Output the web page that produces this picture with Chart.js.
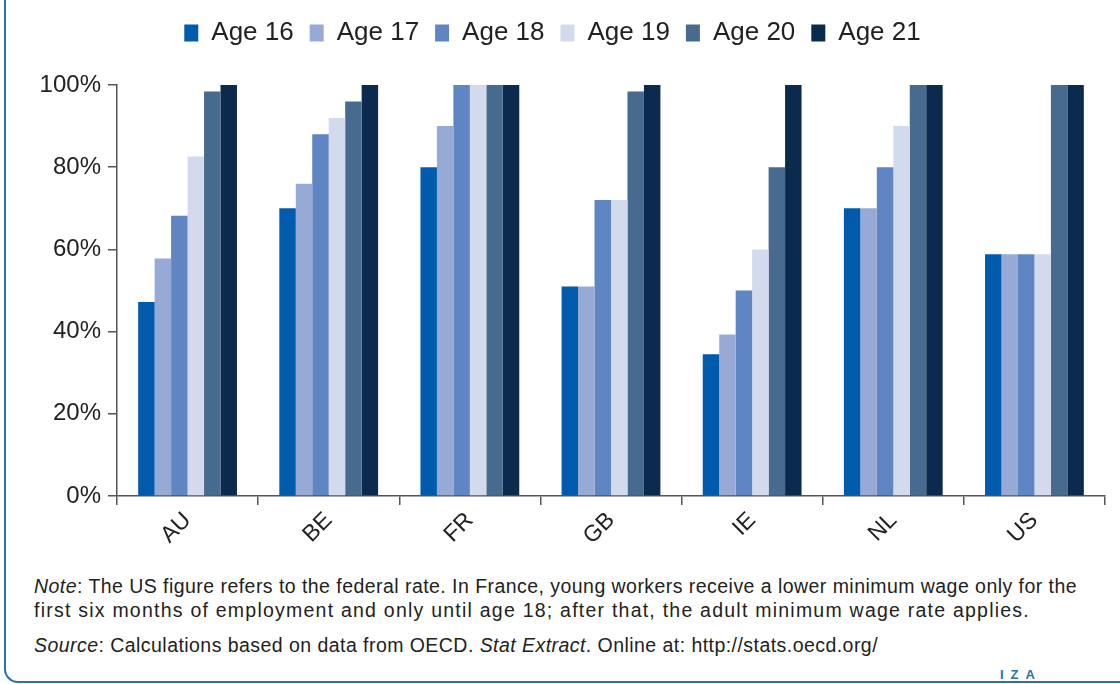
<!DOCTYPE html>
<html>
<head>
<meta charset="utf-8">
<script src="https://cdn.jsdelivr.net/npm/chart.js@4.4.1/dist/chart.umd.min.js"></script>
<style>
  html, body { margin: 0; padding: 0; background: #fff; }
  body { width: 1120px; height: 684px; position: relative; overflow: hidden; font-family: "Liberation Sans", Arial, sans-serif; }
  #frame { position: absolute; left: 4px; top: -10px; width: 1200px; height: 691px; border-left: 2px solid #2f6db3; border-bottom: 2px solid #2f6db3; border-bottom-left-radius: 14px; }
  #wrap { position: absolute; left: 0; top: 0; width: 1120px; height: 560px; }
  .note { position: absolute; left: 34px; font-size: 19.5px; color: #222; white-space: nowrap; line-height: 24px; }
  #iza { position: absolute; left: 1000px; top: 667px; font-size: 13px; color: #2f6db3; letter-spacing: 7px; font-weight: bold; }
</style>
</head>
<body>
<div id="frame"></div>
<div id="wrap"><canvas id="chart" width="1120" height="552"></canvas></div>
<div class="note" style="top:574px" data-w="1043"><i>Note</i>: The US figure refers to the federal rate. In France, young workers receive a lower minimum wage only for the</div>
<div class="note" style="top:598px" data-w="996">first six months of employment and only until age 18; after that, the adult minimum wage rate applies.</div>
<div class="note" style="top:633px" data-w="844"><i>Source</i>: Calculations based on data from OECD. <i>Stat Extract</i>. Online at: http://stats.oecd.org/</div>
<div id="iza">IZA</div>
<script>
const countries = ['AU', 'BE', 'FR', 'GB', 'IE', 'NL', 'US'];
const age16 = [47.2, 70, 80, 51, 34.5, 70, 58.8];
const age17 = [57.8, 76, 90, 51, 39.3, 70, 58.8];
const age18 = [68.2, 88, 100, 72, 50, 80, 58.8];
const age19 = [82.6, 92, 100, 72, 60, 90, 58.8];
const age20 = [98.4, 96, 100, 98.4, 80, 100, 100];
const age21 = [100, 100, 100, 100, 100, 100, 100];
const yTicks = [0, 20, 40, 60, 80, 100];

const seriesNames = ['Age 16', 'Age 17', 'Age 18', 'Age 19', 'Age 20', 'Age 21'];
const seriesData = [age16, age17, age18, age19, age20, age21];
const colors = ['#005bac', '#97aad6', '#5f85c3', '#d3daee', '#476a8f', '#0b2a4e'];

const axisColor = '#555';
const fam = '"Liberation Sans", Arial, sans-serif';

// stretch note lines to the widths in the picture
document.querySelectorAll('.note').forEach(el => {
  const target = +el.dataset.w;
  const n = el.textContent.length;
  const w = el.getBoundingClientRect().width;
  el.style.letterSpacing = ((target - w) / n) + 'px';
});

// extra room under the legend
const legendGap = {
  id: 'legendGap',
  beforeInit(chart) {
    const fit = chart.legend.fit;
    chart.legend.fit = function () {
      fit.bind(chart.legend)();
      this.height += 29;
    };
  }
};

new Chart(document.getElementById('chart'), {
  type: 'bar',
  data: {
    labels: countries,
    datasets: seriesData.map((d, i) => ({
      label: seriesNames[i],
      data: d,
      backgroundColor: colors[i],
      borderWidth: 0,
      barPercentage: 1,
      categoryPercentage: 0.7
    }))
  },
  options: {
    responsive: false,
    animation: false,
    devicePixelRatio: 1,
    layout: { padding: { top: 4, right: 15, left: 0, bottom: 0 } },
    plugins: {
      tooltip: { enabled: false },
      legend: {
        position: 'top',
        labels: { boxWidth: 14, boxHeight: 17, padding: 16, color: '#222', font: { family: fam, size: 26 } },
        onClick: null
      }
    },
    scales: {
      x: {
        offset: true,
        grid: { offset: true, drawOnChartArea: false, drawTicks: true, tickLength: 9, color: axisColor, lineWidth: 1.5 },
        border: { color: axisColor, width: 1.5 },
        ticks: { color: '#222', font: { family: fam, size: 23 }, minRotation: 45, maxRotation: 45, padding: 2 }
      },
      y: {
        min: 0,
        max: 100,
        afterBuildTicks: axis => { axis.ticks = yTicks.map(v => ({ value: v })); },
        afterFit: axis => { axis.width = 117; },
        grid: { drawOnChartArea: false, drawTicks: true, tickLength: 9, color: axisColor, lineWidth: 1.5 },
        border: { color: axisColor, width: 1.5 },
        ticks: { color: '#222', font: { family: fam, size: 24 }, padding: 7, callback: v => v + '%' }
      }
    }
  },
  plugins: [legendGap]
});
</script>
</body>
</html>
